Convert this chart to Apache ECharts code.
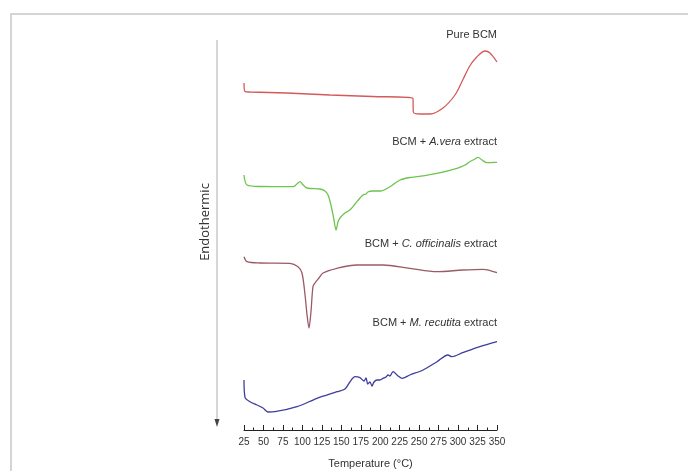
<!DOCTYPE html>
<html><head><meta charset="utf-8">
<script src="https://cdn.jsdelivr.net/npm/echarts@6/dist/echarts.min.js"></script>
<style>html,body{margin:0;padding:0;background:#fff}#c{width:688px;height:471px}</style>
</head><body><div id="c"></div>
<script>
// Temperature (°C) and heat-flow (arbitrary, offset units)
const pureT = [25,26.3,32.7,80,135.5,190,242,242.5,251,264,280.6,296,306,315,324,334.6,341,350];
const pureY = [347,338.5,338,337,335,333.5,331.7,318,316,316,322,335,350,364,373,379,377,368];

const veraT = [25,28.9,45.6,88,93,97,101,106,122.6,129,133,137,140.6,143.2,145.7,148.3,154.7,161,167.6,174,177.9,181.7,184,190.7,199.7,203.5,212.5,225.4,238,247,273,298.6,309,315,321.7,325.6,330.7,337,343.6,350];
const veraY = [255,245,243.5,243.3,246,248.3,245,242,241,239,235,224,210,200,208,212,217,220,226,232,235,236,238,239,239,239.5,243.3,250,252.5,253.3,256.7,261.7,265,268.3,271,272.7,270,267.3,267.5,267.7];

const offT = [25,28.9,45.6,84,94.4,99.5,103.4,106,108.5,111,113.6,116.2,121.3,126.5,144.5,170,203.5,238,273,306,332,350];
const offY = [173.3,168.3,167,166.7,163.3,157,135,115,102,118,143.3,147,152,157,161.7,165,165,161.7,158.3,160,160.7,157.3];

const recT = [25,26.3,32.7,41.7,49.4,55.8,64.8,93,118.8,144.5,154.7,161,167.6,174,179,181.7,184,186.8,189.4,192,195.8,199.7,203.5,207.4,210,212.5,216.4,219,221.5,228,238,255,273,287,292,306,328,350];
const recY = [50,32.7,28.3,25,22,18,18.3,23.3,31.7,38.3,41,48,53.3,52.3,49,52,46,48,44,48,50,50,51.7,53,55,54,58.3,57,55,51.7,55,60,68.3,75,73.3,77.3,83.3,88.3];

const xTicks = [25,50,75,100,125,150,175,200,225,250,275,300,325,350];
const seriesNames = ['Pure BCM','BCM + A.vera extract','BCM + C. officinalis extract','BCM + M. recutita extract'];

const zip = (a,b) => a.map((v,i)=>[v,b[i]]);
const chart = echarts.init(document.getElementById('c'));
const lineSeries = (name, t, y, color) => ({
  name, type:'line', data: zip(t,y), showSymbol:false, smooth:0.3,
  lineStyle:{color, width:1.3}, itemStyle:{color}, silent:true
});
const txtStyle = {fontFamily:'Liberation Sans, Arial', fontSize:11, fill:'#333', align:'right'};
chart.setOption({
  animation:false,
  backgroundColor:'#fff',
  grid:{left:244, right:191, top:20, bottom:41, containLabel:false, outerBoundsMode:'none'},
  xAxis:{type:'value', min:25, max:350, interval:25,
    axisLine:{lineStyle:{color:'#222', width:1}},
    axisTick:{inside:true, length:5, lineStyle:{color:'#222'}},
    minorTick:{show:true, splitNumber:2, length:2.5, lineStyle:{color:'#222'}},
    splitLine:{show:false},
    axisLabel:{color:'#333', fontSize:10, fontFamily:'Liberation Sans, Arial', margin:7, formatter:v=>xTicks.includes(v)?String(v):''},
    name:'Temperature (°C)', nameLocation:'middle', nameGap:28,
    nameTextStyle:{color:'#333', fontSize:11, fontFamily:'Liberation Sans, Arial'}
  },
  yAxis:{type:'value', min:0, max:410, show:false},
  series:[
    lineSeries(seriesNames[0], pureT, pureY, '#d45a5a'),
    lineSeries(seriesNames[1], veraT, veraY, '#6dc44e'),
    lineSeries(seriesNames[2], offT, offY, '#9a5a66'),
    lineSeries(seriesNames[3], recT, recY, '#3d3d9e')
  ],
  graphic:[
    {type:'polyline', silent:true, shape:{points:[[11,471],[11,14],[688,14]]}, style:{stroke:'#c8c8c8', lineWidth:1.5, fill:null}},
    {type:'line', silent:true, shape:{x1:217,y1:40,x2:217,y2:424}, style:{stroke:'#bbb', lineWidth:1.2}},
    {type:'polygon', silent:true, shape:{points:[[214.5,419],[219.5,419],[217,427]]}, style:{fill:'#444'}},
    {type:'text', silent:true, x:205, y:222, rotation:Math.PI/2,
      style:{text:'Endothermic', fontFamily:'Open Sans, Noto Sans', fontSize:13, fill:'#333', align:'center', verticalAlign:'middle'}},
    {type:'text', silent:true, x:497, y:29, style:Object.assign({text:'Pure BCM'}, txtStyle)},
    {type:'text', silent:true, x:497, y:136, style:Object.assign({
      text:'BCM + {i|A.vera} extract', rich:{i:{fontStyle:'italic', fontFamily:'Liberation Sans, Arial', fontSize:11, fill:'#333'}}}, txtStyle)},
    {type:'text', silent:true, x:497, y:238, style:Object.assign({
      text:'BCM + {i|C. officinalis} extract', rich:{i:{fontStyle:'italic', fontFamily:'Liberation Sans, Arial', fontSize:11, fill:'#333'}}}, txtStyle)},
    {type:'text', silent:true, x:497, y:317, style:Object.assign({
      text:'BCM + {i|M. recutita} extract', rich:{i:{fontStyle:'italic', fontFamily:'Liberation Sans, Arial', fontSize:11, fill:'#333'}}}, txtStyle)}
  ]
});
</script></body></html>
